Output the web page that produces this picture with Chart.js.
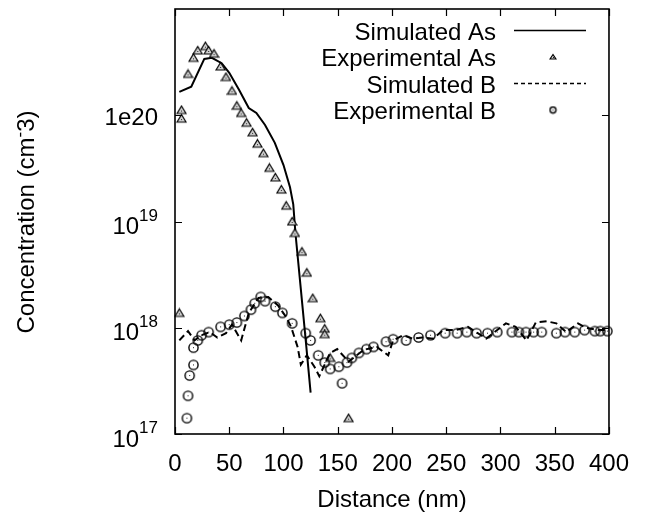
<!DOCTYPE html>
<html>
<head>
<meta charset="utf-8">
<script src="https://cdn.jsdelivr.net/npm/chart.js@4.4.0/dist/chart.umd.min.js"></script>
<style>
  html, body { margin: 0; padding: 0; background: #fff; }
</style>
</head>
<body>
<canvas id="profile" width="645" height="515"></canvas>
<script>
// data (x in nm, concentration in cm^-3)
const simAsX = [4, 15, 27, 34, 43, 50, 59, 68, 75, 83, 92, 100, 106, 109, 111, 116, 120.5, 125]
const simAsY = [1.66e20, 1.86e20, 3.39e20, 3.47e20, 3.09e20, 2.51e20, 1.74e20, 1.17e20, 1.05e20, 8.1e19, 5.5e19, 3.4e19, 2.1e19, 1.45e19, 7.8e18, 2.3e18, 7.6e17, 2.45e17]

const expAsX = [4, 6, 6, 12, 17, 21, 28, 31, 36, 42, 47, 52.5, 57, 61, 66, 71.5, 76, 81.5, 87, 92.5, 98, 102.5, 108, 110.5, 117, 121.5, 127, 134, 138, 138, 143, 160]
const expAsY = [1.38e18, 1.12e20, 9.3e19, 2.45e20, 3.47e20, 4.07e20, 4.47e20, 4.07e20, 3.8e20, 2.88e20, 2.29e20, 1.7e20, 1.23e20, 1.05e20, 8.5e19, 6.9e19, 5.4e19, 4.4e19, 3.2e19, 2.6e19, 2.0e19, 1.41e19, 1.0e19, 7.8e18, 5.2e18, 3.3e18, 1.9e18, 1.23e18, 9.8e17, 8.7e17, 5.2e17, 1.41e17]

const simBX = [4, 12, 18, 24.5, 32, 39, 47, 52.5, 61, 68, 77, 86, 95, 102.5, 107, 113, 116, 121.5, 128.5, 133, 143, 149.5, 160, 174, 186, 196.5, 201, 210, 219, 228, 238, 247, 258, 270, 279, 287, 294.5, 305, 314, 324, 332.5, 342.5, 351.5, 360.5, 371.5, 378.5, 391, 400]
const simBY = [7.6e17, 9.3e17, 7.6e17, 8.5e17, 9.1e17, 8.1e17, 8.9e17, 1.07e18, 7.6e17, 1.38e18, 1.91e18, 1.95e18, 1.62e18, 1.26e18, 1.02e18, 6.6e17, 4.5e17, 5.5e17, 4.3e17, 3.5e17, 5.8e17, 6.3e17, 4.8e17, 6.2e17, 6.6e17, 5.5e17, 7.6e17, 8.5e17, 7.9e17, 8.1e17, 7.9e17, 9.5e17, 9.5e17, 1.02e18, 8.9e17, 7.9e17, 9.1e17, 1.1e18, 1.02e18, 7.6e17, 1.12e18, 1.15e18, 1.1e18, 9.1e17, 1.1e18, 1.0e18, 9.5e17, 9.5e17]

const expBX = [11, 12, 13.5, 17, 17, 21, 24.5, 31, 42, 50, 57, 64, 70, 73.5, 79, 83, 92.5, 99, 108, 120.5, 125, 132, 138, 143, 151, 154, 158.5, 163, 169.5, 176.5, 183, 194.5, 201, 213, 224.5, 235.5, 249, 260, 269, 278, 288, 297, 310.5, 317, 323.5, 330.5, 338, 351.5, 359.5, 368.5, 377.5, 387, 392, 398.5]
const expBY = [1.41e17, 2.29e17, 3.55e17, 4.47e17, 6.5e17, 7.6e17, 8.5e17, 9.1e17, 1.02e18, 1.07e18, 1.12e18, 1.29e18, 1.48e18, 1.7e18, 1.95e18, 1.78e18, 1.58e18, 1.38e18, 1.1e18, 8.9e17, 7.6e17, 5.5e17, 4.7e17, 4.1e17, 4.3e17, 3.0e17, 4.7e17, 5.2e17, 5.8e17, 6.3e17, 6.6e17, 7.4e17, 7.8e17, 7.6e17, 8.1e17, 8.5e17, 8.9e17, 8.9e17, 9.1e17, 8.9e17, 8.9e17, 9.1e17, 9.1e17, 9.1e17, 9.1e17, 9.1e17, 9.1e17, 8.9e17, 9.1e17, 9.1e17, 9.5e17, 9.3e17, 9.3e17, 9.3e17]

//Tick labels
const xTicks = [0, 50, 100, 150, 200, 250, 300, 350, 400]
const yTickValues = [1e17, 1e18, 1e19, 1e20]
const yTickBase = ['10', '10', '10', '1e20']
const yTickSup = ['17', '18', '19', '']

const legendNames = ['Simulated As', 'Experimental As', 'Simulated B', 'Experimental B']

const FONT = "'Liberation Sans', Arial, Helvetica, sans-serif"
Chart.defaults.font.family = FONT
Chart.defaults.color = '#000'

function toPoints(xs, ys) {
  return xs.map((x, i) => ({ x: x, y: ys[i] }))
}

//marker images, gnuplot style (outline + centre dot)
function triangleMark(w) {
  const c = document.createElement('canvas')
  c.width = w
  c.height = w
  const g = c.getContext('2d')
  g.beginPath()
  g.moveTo(w / 2, 1.5)
  g.lineTo(w - 1, w - 2)
  g.lineTo(1, w - 2)
  g.closePath()
  g.fillStyle = '#d2d2d2'
  g.fill()
  g.lineWidth = 1.2
  g.strokeStyle = '#000'
  g.stroke()
  g.fillStyle = '#222'
  g.fillRect(Math.floor(w / 2), Math.floor(w * 0.6), 1, 1)
  return c
}

function circleMark(w, r) {
  const c = document.createElement('canvas')
  c.width = w
  c.height = w
  const g = c.getContext('2d')
  g.beginPath()
  g.arc(w / 2, w / 2, r, 0, Math.PI * 2)
  g.lineWidth = 1.4
  g.strokeStyle = '#000'
  g.stroke()
  g.fillStyle = '#222'
  g.fillRect(Math.floor(w / 2), Math.floor(w / 2), 1, 1)
  return c
}

const triBig = triangleMark(11)
const triSmall = triangleMark(8)
const circBig = circleMark(13, 4.6)
const circSmall = circleMark(9, 3)

//frame, inside ticks, y labels, y title and legend
const gnuplotDecor = {
  id: 'gnuplotDecor',
  afterDraw(chart) {
    const ctx = chart.ctx
    const area = chart.chartArea
    const xs = chart.scales.x
    const ys = chart.scales.y
    ctx.save()
    ctx.strokeStyle = '#000'
    ctx.lineWidth = 1.6
    ctx.strokeRect(area.left, area.top, area.right - area.left, area.bottom - area.top)

    const tl = 7
    ctx.beginPath()
    xTicks.forEach(v => {
      const px = Math.round(xs.getPixelForValue(v)) + 0.5
      ctx.moveTo(px, area.bottom)
      ctx.lineTo(px, area.bottom - tl)
      ctx.moveTo(px, area.top)
      ctx.lineTo(px, area.top + tl)
    })
    yTickValues.forEach(v => {
      const py = Math.round(ys.getPixelForValue(v)) + 0.5
      ctx.moveTo(area.left, py)
      ctx.lineTo(area.left + tl, py)
      ctx.moveTo(area.right, py)
      ctx.lineTo(area.right - tl, py)
    })
    ctx.lineWidth = 1.2
    ctx.stroke()

    //y tick labels with superscripts
    ctx.fillStyle = '#000'
    ctx.textBaseline = 'alphabetic'
    ctx.textAlign = 'left'
    const baseFont = '24px ' + FONT
    const supFont = '17px ' + FONT
    const rightEdge = 158
    yTickValues.forEach((v, i) => {
      const py = ys.getPixelForValue(v)
      ctx.font = supFont
      const ws = yTickSup[i] ? ctx.measureText(yTickSup[i]).width : 0
      ctx.font = baseFont
      const wb = ctx.measureText(yTickBase[i]).width
      const bx = rightEdge - ws - wb
      if (yTickSup[i]) {
        ctx.fillText(yTickBase[i], bx, py + 12.5)
        ctx.font = supFont
        ctx.fillText(yTickSup[i], bx + wb, py - 1)
      } else {
        ctx.fillText(yTickBase[i], bx, py + 9.5)
      }
    })

    //y axis title: Concentration (cm^-3)
    ctx.save()
    ctx.translate(34, 222)
    ctx.rotate(-Math.PI / 2)
    const parts = [['Concentration (cm', baseFont, 0], ['-', supFont, -9], ['3)', baseFont, 0]]
    let total = 0
    parts.forEach(p => { ctx.font = p[1]; total += ctx.measureText(p[0]).width })
    let cx = -total / 2
    parts.forEach(p => {
      ctx.font = p[1]
      ctx.fillText(p[0], cx, p[2])
      cx += ctx.measureText(p[0]).width
    })
    ctx.restore()

    //legend
    ctx.font = baseFont
    ctx.textAlign = 'right'
    legendNames.forEach((name, i) => {
      const by = 39.5 + 26.5 * i
      ctx.fillText(name, 496, by)
      const sy = by - 9
      if (i === 0 || i === 2) {
        ctx.beginPath()
        ctx.setLineDash(i === 2 ? [4, 3] : [])
        ctx.lineWidth = 1.6
        ctx.moveTo(514, sy)
        ctx.lineTo(586, sy)
        ctx.stroke()
        ctx.setLineDash([])
      } else {
        const img = i === 1 ? triSmall : circSmall
        ctx.drawImage(img, 553 - img.width / 2, sy - img.height / 2)
      }
    })
    ctx.restore()
  }
}

const profileChart = new Chart(document.getElementById('profile').getContext('2d'), {
  type: 'scatter',
  data: {
    datasets: [
      {
        label: legendNames[0],
        data: toPoints(simAsX, simAsY),
        showLine: true,
        borderColor: '#000',
        borderWidth: 2,
        pointRadius: 0,
        tension: 0,
        order: 3
      },
      {
        label: legendNames[1],
        data: toPoints(expAsX, expAsY),
        pointStyle: triBig,
        pointRadius: 5,
        clip: false,
        order: 2
      },
      {
        label: legendNames[2],
        data: toPoints(simBX, simBY),
        showLine: true,
        borderColor: '#000',
        borderWidth: 2,
        borderDash: [7, 4],
        pointRadius: 0,
        tension: 0,
        order: 1
      },
      {
        label: legendNames[3],
        data: toPoints(expBX, expBY),
        pointStyle: circBig,
        pointRadius: 5,
        clip: false,
        order: 0
      }
    ]
  },
  options: {
    responsive: false,
    devicePixelRatio: 1,
    animation: false,
    layout: { padding: { top: 9, right: 28, left: 0, bottom: 0 } },
    plugins: {
      legend: { display: false },
      tooltip: { enabled: false }
    },
    scales: {
      x: {
        type: 'linear',
        min: 0,
        max: 400,
        grid: { display: false, drawTicks: false },
        border: { display: false },
        ticks: { stepSize: 50, font: { size: 24 }, padding: 16, color: '#000' },
        title: { display: true, text: 'Distance (nm)', font: { size: 24 }, padding: { top: 2, bottom: 0 }, color: '#000' },
        afterFit(scale) { scale.height = 81 }
      },
      y: {
        type: 'logarithmic',
        min: 1e17,
        max: 1e21,
        grid: { display: false, drawTicks: false },
        border: { display: false },
        ticks: { display: false },
        afterFit(scale) { scale.width = 175 }
      }
    }
  },
  plugins: [gnuplotDecor]
})
</script>
</body>
</html>
